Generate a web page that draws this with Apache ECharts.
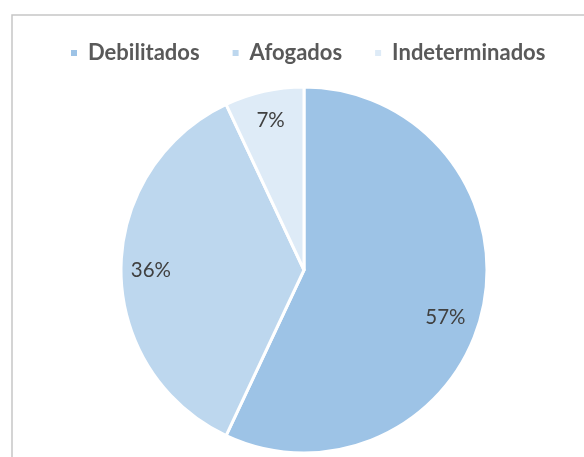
<!DOCTYPE html>
<html>
<head>
<meta charset="utf-8">
<script src="https://cdn.jsdelivr.net/npm/echarts@6/dist/echarts.min.js"></script>
<style>
  html, body { margin: 0; padding: 0; background: #fff; }
  #chart { width: 584px; height: 457px; }
</style>
</head>
<body>
<div id="chart"></div>
<script>
  // 数据
  var categories = ['Debilitados', 'Afogados', 'Indeterminados'];
  var values = [57, 36, 7];
  var colors = ['#9DC3E6', '#BDD7EE', '#DEEBF7'];

  var pieData = categories.map(function (name, i) {
    return { name: name, value: values[i], itemStyle: { color: colors[i] } };
  });

  var center = [304, 270];
  var radius = 183;

  var myChart = echarts.init(document.getElementById('chart'));
  myChart.setOption({
    animation: false,
    // 外框
    graphic: [{
      type: 'rect',
      silent: true,
      shape: { x: 12, y: 15, width: 620, height: 500 },
      style: { fill: 'none', stroke: '#c6c6c6', lineWidth: 1.5 }
    }],
    legend: {
      data: categories,
      left: 64,
      top: 37,
      icon: 'rect',
      itemWidth: 8,
      itemHeight: 8,
      itemGap: 31,
      textStyle: {
        fontFamily: 'Lato',
        fontWeight: 'bold',
        fontSize: 22,
        color: '#595959',
        padding: [0, 0, 0, 5]
      }
    },
    series: [
      {
        type: 'pie',
        center: center,
        radius: [0, radius],
        startAngle: 90,
        clockwise: true,
        data: pieData,
        label: { show: false },
        labelLine: { show: false },
        itemStyle: { borderColor: '#fff', borderWidth: 3 },
        emphasis: { disabled: true }
      },
      {
        // 标签层（透明）
        type: 'pie',
        center: center,
        radius: [radius * 0.64, radius],
        startAngle: 90,
        clockwise: true,
        silent: true,
        data: pieData.map(function (d) {
          return { name: d.name, value: d.value, itemStyle: { color: 'rgba(0,0,0,0)' } };
        }),
        itemStyle: { borderWidth: 0 },
        label: {
          show: true,
          position: 'inside',
          formatter: '{c}%',
          fontFamily: 'Lato',
          fontSize: 20.5,
          color: '#404040'
        },
        labelLine: { show: false },
        // 最大扇区标签略向下偏移（与原图一致）
        labelLayout: function (params) {
          if (params.dataIndex === 0) {
            return { dx: -8, dy: 14 };
          }
          return {};
        },
        emphasis: { disabled: true }
      }
    ]
  });
</script>
</body>
</html>
